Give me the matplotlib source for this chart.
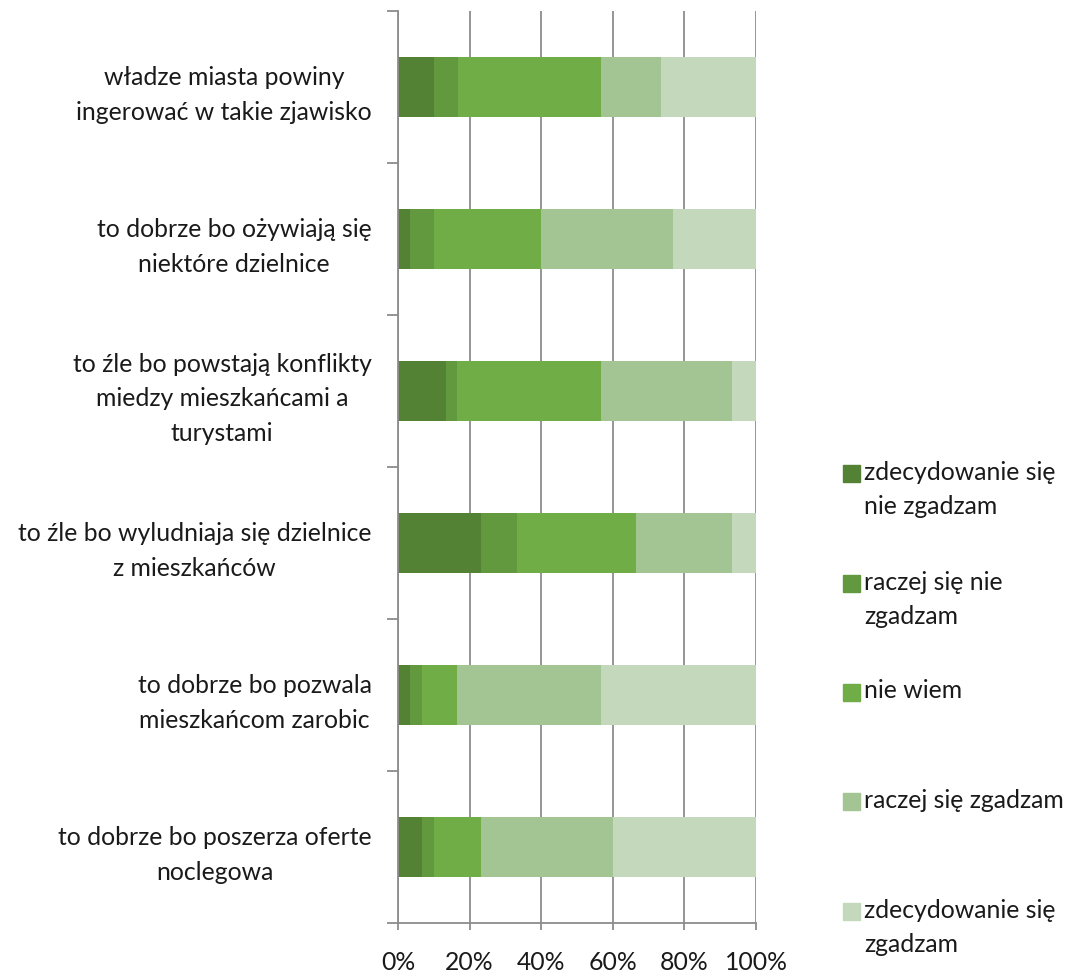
import numpy as np
import matplotlib
matplotlib.use("Agg")
import matplotlib.pyplot as plt
from matplotlib.patches import Rectangle

plt.rcParams['font.family'] = ['Lato', 'DejaVu Sans']

# survey statements (top to bottom)
statements = [
    "władze miasta powiny\ningerować w takie zjawisko",
    "to dobrze bo ożywiają się\nniektóre dzielnice",
    "to źle bo powstają konflikty\nmiedzy mieszkańcami a\nturystami",
    "to źle bo wyludniaja się dzielnice\nz mieszkańców",
    "to dobrze bo pozwala\nmieszkańcom zarobic",
    "to dobrze bo poszerza oferte\nnoclegowa",
]

# answer shares in percent for each statement
strongly_disagree = [10.0, 3.3, 13.3, 23.3, 3.3, 6.7]
rather_disagree = [6.7, 6.7, 3.3, 10.0, 3.3, 3.3]
dont_know = [40.0, 30.0, 40.0, 33.3, 10.0, 13.3]
rather_agree = [16.7, 36.7, 36.7, 26.7, 40.0, 36.7]
strongly_agree = [26.7, 23.3, 6.7, 6.7, 43.3, 40.0]

answers = [
    "zdecydowanie się\nnie zgadzam",
    "raczej się nie\nzgadzam",
    "nie wiem",
    "raczej się zgadzam",
    "zdecydowanie się\nzgadzam",
]
colors = ["#548235", "#62993e", "#70ad47", "#a3c593", "#c4d8bb"]

series = [strongly_disagree, rather_disagree, dont_know, rather_agree, strongly_agree]

fig = plt.figure(figsize=(10.69, 9.73), dpi=100)
ax = fig.add_axes([398 / 1069, 1 - 923 / 973, 358 / 1069, 912 / 973])

y = np.arange(len(statements))
left = np.zeros(len(statements))
for vals, col in zip(series, colors):
    ax.barh(y, vals, left=left, height=0.39, color=col, edgecolor="none")
    left += np.array(vals)

ax.set_xlim(0, 100)
ax.set_ylim(len(statements) - 0.5, -0.5)

grid_col = "#8c8c8c"
ax.set_xticks(np.arange(0, 101, 20))
ax.set_xticklabels([f"{v}%" for v in range(0, 101, 20)])
ax.xaxis.grid(True, color=grid_col, linewidth=1.3)
ax.set_axisbelow(True)

ax.set_yticks(y)
ax.set_yticklabels(statements)
ax.set_yticks(np.arange(-0.5, len(statements)), minor=True)
ax.tick_params(axis="y", which="major", length=0, pad=19)
ax.tick_params(axis="y", which="minor", length=8, color=grid_col, width=1.3)
ax.tick_params(axis="x", length=5, color=grid_col, width=1.3, pad=15)

fs = 17.8
for t in ax.get_yticklabels():
    t.set_multialignment("center")
    t.set_linespacing(1.62)
    t.set_fontsize(fs)
    t.set_color("#1a1a1a")
for t in ax.get_xticklabels():
    t.set_fontsize(fs)
    t.set_color("#1a1a1a")

for side in ["top", "right"]:
    ax.spines[side].set_visible(False)
for side in ["left", "bottom"]:
    ax.spines[side].set_color(grid_col)
    ax.spines[side].set_linewidth(1.3)

# legend drawn by hand so the marker sits on the first text line
W, H = 1069, 973
marker_centers = [473.5, 583.5, 692.5, 801.5, 911.5]
for yc, lab, col in zip(marker_centers, answers, colors):
    fig.patches.append(Rectangle((843 / W, 1 - (yc + 8.5) / H), 17 / W, 17 / H,
                                 transform=fig.transFigure, color=col))
    fig.text(864 / W, 1 - (yc - 13) / H, lab, ha="left", va="top",
             fontsize=fs, color="#1a1a1a", linespacing=1.62)

fig.savefig("out.png", dpi=100)
